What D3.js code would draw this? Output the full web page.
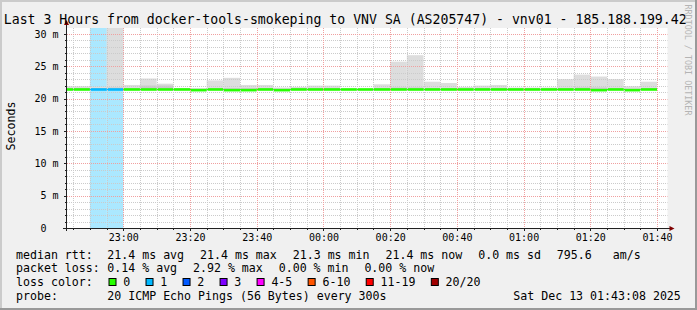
<!DOCTYPE html>
<html>
<head>
<meta charset="utf-8">
<script src="https://cdn.jsdelivr.net/npm/d3@7"></script>
<style>
  html, body { margin: 0; padding: 0; background: #f0f0f0; }
  svg { display: block; font-family: "DejaVu Sans Mono", monospace; }
  text { white-space: pre; }
</style>
</head>
<body>
<svg></svg>
<script>
// 5 minute slots (start time), smoke top, darker smoke band top, median (ms), loss level index
const slotStart = ["22:40","22:45","22:50","22:55","23:00","23:05","23:10","23:15","23:20","23:25","23:30","23:35",
                   "23:40","23:45","23:50","23:55","00:00","00:05","00:10","00:15","00:20","00:25","00:30","00:35",
                   "00:40","00:45","00:50","00:55","01:00","01:05","01:10","01:15","01:20","01:25","01:30","01:35"];
const smokeMax  = [21.9,21.9,21.8,33.0,22.1,23.1,22.3,21.6,21.6,22.8,23.2,22.1,
                   22.1,21.7,21.8,22.0,22.0,21.5,21.5,22.2,25.7,26.7,22.6,22.4,
                   21.8,22.0,22.1,21.7,21.7,21.7,23.0,23.7,23.4,23.0,21.9,22.6];
const smokeMid  = [21.6,21.6,21.6,21.7,21.6,22.0,22.0,21.5,21.5,21.6,21.6,21.6,
                   21.6,21.5,21.6,21.6,21.6,21.5,21.5,21.6,21.7,21.7,21.6,21.6,
                   21.5,21.6,21.6,21.5,21.5,21.5,21.6,21.7,21.7,21.6,21.5,21.6];
const medianRtt = [21.4,21.4,21.4,21.4,21.4,21.4,21.4,21.4,21.3,21.4,21.3,21.3,
                   21.4,21.3,21.4,21.4,21.4,21.4,21.4,21.4,21.4,21.4,21.4,21.4,
                   21.4,21.4,21.4,21.4,21.4,21.4,21.4,21.4,21.3,21.4,21.3,21.4];
const lossLevel = [0,0,1,1,0,0,0,0,0,0,0,0,0,0,0,0,0,0,0,0,0,0,0,0,0,0,0,0,0,0,0,0,0,0,0,0];

const lossLabels = ["0","1","2","3","4-5","6-10","11-19","20/20"];
const lossColors = ["#26ff00","#00b8ff","#0059ff","#7e00ff","#ff00ff","#ff5500","#ff0000","#a00000"];

const yTicks = [0,5,10,15,20,25,30];
const title = "Last 3 Hours from docker-tools-smokeping to VNV SA (AS205747) - vnv01 - 185.188.199.42";
const rttStats  = ["21.4 ms avg","21.4 ms max","21.3 ms min","21.4 ms now","0.0 ms sd","795.6   am/s"];
const lossStats = ["0.14 % avg","2.92 % max","0.00 % min","0.00 % now"];
const probeText = "20 ICMP Echo Pings (56 Bytes) every 300s";
const stamp = "Sat Dec 13 01:43:08 2025";

const W = 697, H = 310;
const pL = 67, pR = 667.5, pT = 28, pB = 228;
const charW = 7.02, itemGap = 15.5;

const svg = d3.select("svg").attr("width", W).attr("height", H);

const toDate = s => {
  const [h, m] = s.split(":").map(Number);
  return new Date(Date.UTC(2025, 11, h >= 12 ? 12 : 13, h, m));
};
const tStart = new Date(Date.UTC(2025, 11, 12, 22, 43, 8));
const tEnd = new Date(Date.UTC(2025, 11, 13, 1, 43, 8));

const x = d3.scaleUtc().domain([tStart, tEnd]).range([pL, pR]);
const y = d3.scaleLinear().domain([0, 30.9]).range([pB, pT]);

const slots = slotStart.map((s, i) => {
  const t0 = toDate(s);
  return { t0, t1: d3.utcMinute.offset(t0, 5), hi: smokeMax[i], mid: smokeMid[i], med: medianRtt[i], loss: lossLevel[i] };
});

// frame
svg.append("rect").attr("width", W).attr("height", H).attr("fill", "#f0f0f0");
svg.append("path").attr("d", `M0,${H} V0 H${W}`).attr("fill", "none").attr("stroke", "#cbcbcb").attr("stroke-width", 4);
svg.append("path").attr("d", `M0,${H} H${W} V0`).attr("fill", "none").attr("stroke", "#999999").attr("stroke-width", 4);

// canvas
svg.append("rect").attr("x", pL).attr("y", pT).attr("width", pR - pL).attr("height", pB - pT).attr("fill", "#fff");

svg.append("clipPath").attr("id", "plot").append("rect")
  .attr("x", pL).attr("y", pT).attr("width", pR - pL).attr("height", pB - pT);

const plot = svg.append("g").attr("clip-path", "url(#plot)");
const sx0 = d => Math.max(pL, x(d.t0));
const sw = d => x(d.t1) - sx0(d);

// loss background
plot.selectAll("rect.lossbg").data(slots.filter(d => d.loss > 0)).join("rect")
  .attr("class", "lossbg")
  .attr("x", sx0).attr("width", sw)
  .attr("y", pT).attr("height", pB - pT)
  .attr("fill", d => lossColors[d.loss]).attr("fill-opacity", 0.33);

// smoke
plot.selectAll("rect.smoke").data(slots).join("rect")
  .attr("class", "smoke")
  .attr("x", sx0).attr("width", sw)
  .attr("y", d => y(d.hi)).attr("height", d => y(d.med) - y(d.hi))
  .attr("fill", "#dddddd");
plot.selectAll("rect.smoke2").data(slots).join("rect")
  .attr("class", "smoke2")
  .attr("x", sx0).attr("width", sw)
  .attr("y", d => y(d.mid)).attr("height", d => y(d.med) - y(d.mid))
  .attr("fill", "#c8c8c8");

// grid
const minorY = d3.range(1, 31).filter(v => v % 5 !== 0);
const majorY = yTicks.filter(v => v > 0);
const minorX = d3.utcMinute.every(5).range(tStart, tEnd).filter(t => t.getUTCMinutes() % 20 !== 0);
const majorX = d3.utcMinute.every(20).range(tStart, tEnd);

const grid = svg.append("g").attr("fill", "none").attr("stroke-dasharray", "1,1");
grid.selectAll("line.gy").data(minorY).join("line").attr("class", "gy")
  .attr("x1", pL).attr("x2", pR).attr("y1", d => Math.round(y(d)) + 0.5).attr("y2", d => Math.round(y(d)) + 0.5)
  .attr("stroke", "#cbcbcb");
grid.selectAll("line.gx").data(minorX).join("line").attr("class", "gx")
  .attr("y1", pT).attr("y2", pB).attr("x1", d => Math.round(x(d)) + 0.5).attr("x2", d => Math.round(x(d)) + 0.5)
  .attr("stroke", "#cbcbcb");
grid.selectAll("line.my").data(majorY).join("line").attr("class", "my")
  .attr("x1", pL).attr("x2", pR).attr("y1", d => Math.round(y(d)) + 0.5).attr("y2", d => Math.round(y(d)) + 0.5)
  .attr("stroke", "#f0a0a0");
grid.selectAll("line.mx").data(majorX).join("line").attr("class", "mx")
  .attr("y1", pT).attr("y2", pB).attr("x1", d => Math.round(x(d)) + 0.5).attr("x2", d => Math.round(x(d)) + 0.5)
  .attr("stroke", "#f0a0a0");

// median line
plot.selectAll("rect.med").data(slots).join("rect")
  .attr("class", "med")
  .attr("x", sx0).attr("width", sw)
  .attr("y", d => y(d.med) - 1.3).attr("height", 2.6)
  .attr("fill", d => lossColors[d.loss]);

// axes
const yAxis = svg.append("g").attr("transform", `translate(${pL},0)`)
  .call(d3.axisLeft(y).tickValues(yTicks).tickSize(0).tickPadding(8.5)
    .tickFormat(v => v === 0 ? "0\u00a0\u00a0" : v + " m"));
yAxis.select(".domain").remove();
yAxis.selectAll("text").attr("font-size", 10).attr("font-family", "DejaVu Sans Mono").attr("fill", "#000");

const xAxis = svg.append("g").attr("transform", `translate(0,${pB})`)
  .call(d3.axisBottom(x).ticks(d3.utcMinute.every(20)).tickSize(0).tickPadding(6)
    .tickFormat(d3.utcFormat("%H:%M")));
xAxis.select(".domain").remove();
xAxis.selectAll("text").attr("font-size", 10).attr("font-family", "DejaVu Sans Mono").attr("fill", "#000");

const ticks = svg.append("g").attr("stroke", "#202020");
ticks.selectAll("line.ty").data(d3.range(0, 31)).join("line").attr("class", "ty")
  .attr("x1", d => d % 5 === 0 ? pL - 3 : pL - 2).attr("x2", pL)
  .attr("y1", d => Math.round(y(d)) + 0.5).attr("y2", d => Math.round(y(d)) + 0.5);
ticks.selectAll("line.tx").data(d3.utcMinute.every(5).range(tStart, tEnd)).join("line").attr("class", "tx")
  .attr("y1", pB).attr("y2", d => d.getUTCMinutes() % 20 === 0 ? pB + 3 : pB + 2)
  .attr("x1", d => Math.round(x(d)) + 0.5).attr("x2", d => Math.round(x(d)) + 0.5);

svg.append("line").attr("x1", pL - 0.5).attr("x2", pL - 0.5).attr("y1", pB + 3).attr("y2", pT - 5)
  .attr("stroke", "#202020");
svg.append("line").attr("x1", pL - 4).attr("x2", pR + 3).attr("y1", pB + 0.5).attr("y2", pB + 0.5)
  .attr("stroke", "#202020");
svg.append("path").attr("d", `M${pL - 3},${pT - 3} L${pL - 0.5},${pT - 8} L${pL + 2},${pT - 3} Z`).attr("fill", "#7f0000");
svg.append("path").attr("d", `M${pR + 2},${pB - 2} L${pR + 7},${pB + 0.5} L${pR + 2},${pB + 3} Z`).attr("fill", "#7f0000");

// texts
svg.append("text").attr("x", 3.8).attr("y", 24).attr("font-size", 13.2).text(title);
svg.append("text").attr("transform", "translate(15,126) rotate(-90)").attr("text-anchor", "middle")
  .attr("font-size", 11.6).text("Seconds");
svg.append("text").attr("transform", "translate(685,60) rotate(90)").attr("text-anchor", "middle")
  .attr("font-size", 8.4).attr("fill", "#b4b4b4").text("RRDTOOL / TOBI OETIKER");

const legend = svg.append("g").attr("font-size", 11.6).attr("fill", "#000");
const labelX = 16, valueX = 107.3;
const rows = [258.5, 272, 286, 299.5];
legend.append("text").attr("x", labelX).attr("y", rows[0]).text("median rtt:");
legend.append("text").attr("x", labelX).attr("y", rows[1]).text("packet loss:");
legend.append("text").attr("x", labelX).attr("y", rows[2]).text("loss color:");
legend.append("text").attr("x", labelX).attr("y", rows[3]).text("probe:");

// lay out legend items one after another
const flow = items => {
  let cx = valueX;
  return items.map(t => { const p = { t, x: cx }; cx += t.length * charW + itemGap; return p; });
};
legend.selectAll("text.rtt").data(flow(rttStats)).join("text").attr("class", "rtt")
  .attr("x", d => d.x).attr("y", rows[0]).text(d => d.t);
legend.selectAll("text.loss").data(flow(lossStats)).join("text").attr("class", "loss")
  .attr("x", d => d.x).attr("y", rows[1]).text(d => d.t);

let lx = 108.5;
const keys = lossLabels.map((l, i) => {
  const k = { label: l, color: lossColors[i], bx: lx, tx: lx + 14.8 };
  lx = k.tx + l.length * charW + 15.2;
  return k;
});
legend.selectAll("rect.key").data(keys).join("rect").attr("class", "key")
  .attr("x", d => d.bx + 0.5).attr("y", rows[2] - 7.5).attr("width", 7).attr("height", 7)
  .attr("fill", d => d.color).attr("stroke", "#000");
legend.selectAll("text.key").data(keys).join("text").attr("class", "key")
  .attr("x", d => d.tx).attr("y", rows[2]).text(d => d.label);

legend.append("text").attr("x", valueX).attr("y", rows[3]).text(probeText);
legend.append("text").attr("x", 513.3).attr("y", rows[3]).text(stamp);
</script>
</body>
</html>
